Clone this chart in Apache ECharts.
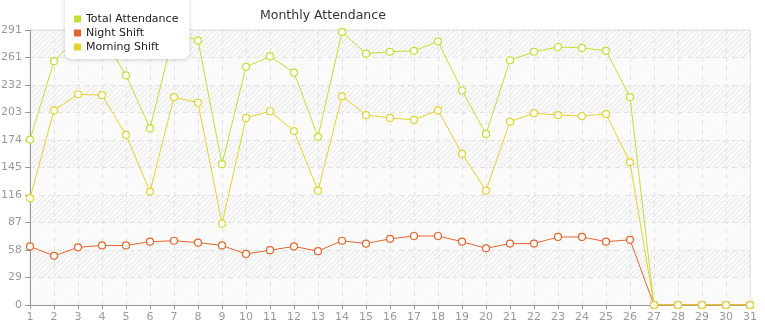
<!DOCTYPE html>
<html>
<head>
<meta charset="utf-8">
<script src="https://cdn.jsdelivr.net/npm/echarts@6/dist/echarts.min.js"></script>
<style>
  html, body { margin: 0; padding: 0; background: #fff; }
  #chart { width: 765px; height: 320px; }
</style>
</head>
<body>
<div id="chart"></div>
<script>
// Days of the month
const days = ['1','2','3','4','5','6','7','8','9','10','11','12','13','14','15','16',
              '17','18','19','20','21','22','23','24','25','26','27','28','29','30','31'];

// Head counts per day
const totalAttendance = [175, 258, 284, 285, 243, 187, 288, 280, 149, 252, 263, 246, 178, 289,
                         266, 268, 269, 279, 227, 181, 259, 268, 273, 272, 269, 220, 0, 0, 0, 0, 0];
const nightShift = [62, 52, 61, 63, 63, 67, 68, 66, 63, 54, 58, 62, 57, 68,
                    65, 70, 73, 73, 67, 60, 65, 65, 72, 72, 67, 69, 0, 0, 0, 0, 0];
const morningShift = [113, 206, 223, 222, 180, 120, 220, 214, 86, 198, 205, 184, 121, 221,
                      201, 198, 196, 206, 160, 121, 194, 203, 201, 200, 202, 151, 0, 0, 0, 0, 0];

// Value axis range and tick labels
const yMax = 291;
const yTickLabels = ['0', '29', '58', '87', '116', '145', '174', '203', '232', '261', '291'];

const seriesNames = ['Total Attendance', 'Night Shift', 'Morning Shift'];
const seriesColors = ['#bfdf35', '#e0652f', '#e3d22f'];

// Diagonal hatch tile for the plot background
function hatchTile() {
  const c = document.createElement('canvas');
  c.width = 5; c.height = 5;
  const ctx = c.getContext('2d');
  ctx.fillStyle = '#fafafa';
  ctx.fillRect(0, 0, 5, 5);
  ctx.strokeStyle = '#e6e6e6';
  ctx.lineWidth = 1;
  ctx.beginPath();
  for (let k = -5; k <= 10; k += 5) {
    ctx.moveTo(k, 5);
    ctx.lineTo(k + 5, 0);
  }
  ctx.stroke();
  return c;
}

const chart = echarts.init(document.getElementById('chart'), null, { renderer: 'canvas' });

const font = 'DejaVu Sans';

chart.setOption({
  animation: false,
  title: {
    text: 'Monthly Attendance',
    left: 255,
    top: 4,
    textStyle: { fontFamily: font, fontSize: 12.5, fontWeight: 'normal', color: '#333' }
  },
  legend: {
    orient: 'vertical',
    left: 65,
    top: -8,
    padding: [20, 11, 5, 9],
    itemGap: 0,
    itemWidth: 7,
    itemHeight: 7,
    icon: 'rect',
    backgroundColor: '#fff',
    borderRadius: 6,
    shadowBlur: 4,
    shadowColor: 'rgba(0,0,0,0.18)',
    shadowOffsetY: 1,
    textStyle: { fontFamily: font, fontSize: 11, color: '#222', lineHeight: 14 },
    data: seriesNames.map(function (name, i) {
      return { name: name, itemStyle: { color: seriesColors[i], borderWidth: 0 } };
    })
  },
  grid: {
    left: 30,
    right: 15,
    top: 30,
    bottom: 15,
    outerBoundsMode: 'none',
    containLabel: false,
    show: true,
    backgroundColor: { image: hatchTile(), repeat: 'repeat' },
    borderColor: '#dcdcdc',
    borderWidth: 1
  },
  xAxis: {
    type: 'category',
    data: days,
    boundaryGap: false,
    axisLine: { lineStyle: { color: '#999', width: 1 } },
    axisTick: { show: true, length: 4, lineStyle: { color: '#999' } },
    axisLabel: { color: '#999', fontFamily: font, fontSize: 11, margin: 7, interval: 0 },
    splitLine: { show: true, lineStyle: { color: '#e2e2e2', type: [5, 4] } }
  },
  yAxis: {
    type: 'value',
    min: 0,
    max: yMax,
    interval: yMax / 10,
    axisLine: { show: true, lineStyle: { color: '#999', width: 1 } },
    axisTick: { show: true, length: 5, lineStyle: { color: '#999' } },
    axisLabel: {
      color: '#999', fontFamily: font, fontSize: 11, margin: 8,
      formatter: function (v) {
        const i = Math.round(v / (yMax / 10));
        return yTickLabels[i];
      }
    },
    splitLine: { show: true, lineStyle: { color: '#e2e2e2', type: [5, 4] } },
    splitArea: { show: true, areaStyle: { color: ['rgba(250,250,250,0.85)', 'rgba(255,255,255,0)'] } }
  },
  series: [
    { name: seriesNames[0], data: totalAttendance },
    { name: seriesNames[1], data: nightShift },
    { name: seriesNames[2], data: morningShift }
  ].map(function (s, i) {
    return {
      name: s.name,
      type: 'line',
      data: s.data,
      color: seriesColors[i],
      symbol: 'circle',
      symbolSize: 7,
      showAllSymbol: true,
      lineStyle: { width: 1, color: seriesColors[i] },
      itemStyle: { color: '#fff', borderColor: seriesColors[i], borderWidth: 1.2 },
      emphasis: { disabled: true }
    };
  })
});
</script>
</body>
</html>
